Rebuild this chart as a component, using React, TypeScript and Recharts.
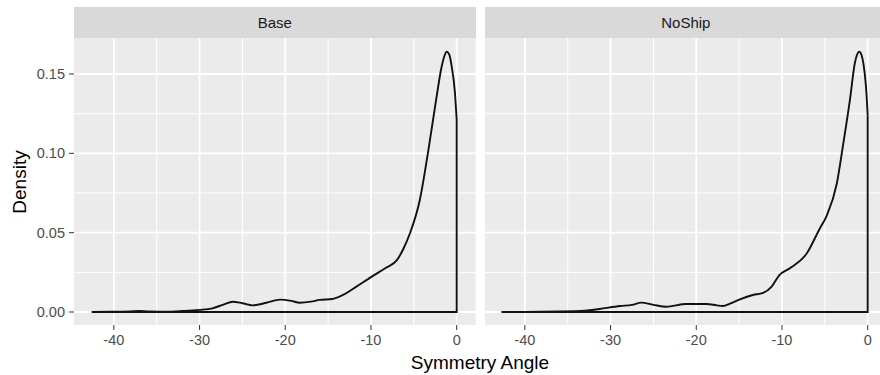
import React from 'react';
import { LineChart, Line, XAxis, YAxis, CartesianGrid } from 'recharts';

// density estimates (x = symmetry angle, y = density)
const baseX = [-42.57, -40, -38, -37, -36, -34, -32, -30, -28.5, -27.3, -26.1, -25, -23.8, -22.2, -20.6, -19.3, -18.3, -17, -16, -14.5, -13, -11.7, -9.9, -8.2, -7, -6.2, -5.45, -4.3, -3.3, -2.4, -1.75, -1.45, -1.17, -0.85, -0.58, -0.2, 0];
const baseY = [0, 0.0002, 0.0004, 0.0006, 0.0003, 0.0002, 0.0006, 0.0013, 0.0023, 0.0045, 0.0065, 0.0055, 0.0042, 0.0058, 0.0078, 0.007, 0.0058, 0.0065, 0.0076, 0.0082, 0.0115, 0.016, 0.0223, 0.028, 0.0325, 0.04, 0.0496, 0.0706, 0.102, 0.1337, 0.1547, 0.161, 0.1641, 0.162, 0.1547, 0.138, 0.121];

const noShipX = [-42.7, -40, -36, -33, -31.3, -28.9, -27.5, -26.4, -25, -23.5, -21.2, -18.8, -17.6, -16.9, -16, -14.9, -13.4, -12.2, -11.2, -10.3, -9.1, -7.1, -5.6, -4.8, -3.6, -2.85, -2.07, -1.5, -1.25, -0.98, -0.72, -0.51, -0.12, 0];
const noShipY = [0, 0.0001, 0.0003, 0.0008, 0.0019, 0.0038, 0.0045, 0.0059, 0.0045, 0.0033, 0.005, 0.005, 0.0042, 0.0038, 0.0055, 0.008, 0.0107, 0.012, 0.016, 0.0233, 0.0275, 0.037, 0.0525, 0.0605, 0.081, 0.106, 0.1337, 0.1568, 0.162, 0.1641, 0.162, 0.157, 0.136, 0.124];

const xTicks = [-40, -30, -20, -10, 0];
const xMinor = [-35, -25, -15, -5];
const yTicks = [0, 0.05, 0.1, 0.15];
const yMinor = [0.025, 0.075, 0.125];

const xDomain = [-44.65, 2.22];
const yDomain = [-0.0082, 0.1727];

const toPoints = (xs: number[], ys: number[]) => xs.map((x, i) => ({ x, y: ys[i] }));

// closing edge of the density outline: down at x max, back along the baseline
const outline = (xs: number[], ys: number[]) => [
  { x: xs[xs.length - 1], y: ys[ys.length - 1] },
  { x: xs[xs.length - 1], y: 0 },
  { x: xs[0], y: 0 },
];

const tickStyle = { fontSize: 14.5, fill: '#4D4D4D' };

const Panel = ({ xs, ys, width, margin, showY }: any) => (
  <LineChart width={width} height={375} margin={margin}>
    <CartesianGrid fill="#EBEBEB" stroke="#fff" strokeWidth={1} verticalValues={xMinor} horizontalValues={yMinor} />
    <CartesianGrid stroke="#fff" strokeWidth={1.8} verticalValues={xTicks} horizontalValues={yTicks} />
    <XAxis
      type="number"
      dataKey="x"
      domain={xDomain}
      ticks={xTicks}
      allowDataOverflow
      axisLine={false}
      tickLine={{ stroke: '#333' }}
      tickSize={5}
      tickMargin={5}
      height={50}
      tick={tickStyle}
    />
    <YAxis
      type="number"
      dataKey="y"
      domain={yDomain}
      ticks={yTicks}
      allowDataOverflow
      hide={!showY}
      width={showY ? 74 : 0}
      axisLine={false}
      tickLine={{ stroke: '#333' }}
      tickSize={5}
      tickMargin={4}
      tick={tickStyle}
      tickFormatter={(v: number) => v.toFixed(2)}
    />
    <Line data={toPoints(xs, ys)} dataKey="y" type="monotone" stroke="#111" strokeWidth={1.9} dot={false} isAnimationActive={false} />
    <Line data={outline(xs, ys)} dataKey="y" type="linear" stroke="#111" strokeWidth={1.9} dot={false} isAnimationActive={false} />
  </LineChart>
);

const stripStyle: React.CSSProperties = {
  position: 'absolute',
  top: 7,
  height: 31,
  background: '#D9D9D9',
  color: '#1A1A1A',
  fontSize: 15,
  lineHeight: '31px',
  textAlign: 'center',
};

export default function App() {
  return (
    <div style={{ position: 'fixed', left: 0, top: 0, width: 880, height: 375, overflow: 'hidden', background: '#fff', fontFamily: '"Liberation Sans", Arial, sans-serif' }}>
      <div style={{ position: 'absolute', left: 0, top: 0 }}>
        <Panel xs={baseX} ys={baseY} width={480} margin={{ top: 38, right: 4.3, left: 0, bottom: 0 }} showY />
      </div>
      <div style={{ position: 'absolute', left: 480, top: 0 }}>
        <Panel xs={noShipX} ys={noShipY} width={410} margin={{ top: 38, right: 3.3, left: 5, bottom: 0 }} showY={false} />
      </div>
      <div style={{ ...stripStyle, left: 74, width: 401.7 }}>Base</div>
      <div style={{ ...stripStyle, left: 485, width: 401.7 }}>NoShip</div>
      <div style={{ position: 'absolute', left: 280, width: 400, top: 351, textAlign: 'center', fontSize: 19, lineHeight: '24px', color: '#000' }}>
        Symmetry Angle
      </div>
      <div style={{ position: 'absolute', left: 19.5, top: 181.5, transform: 'translate(-50%, -50%) rotate(-90deg)', fontSize: 19, lineHeight: '24px', color: '#000', whiteSpace: 'nowrap' }}>
        Density
      </div>
    </div>
  );
}
